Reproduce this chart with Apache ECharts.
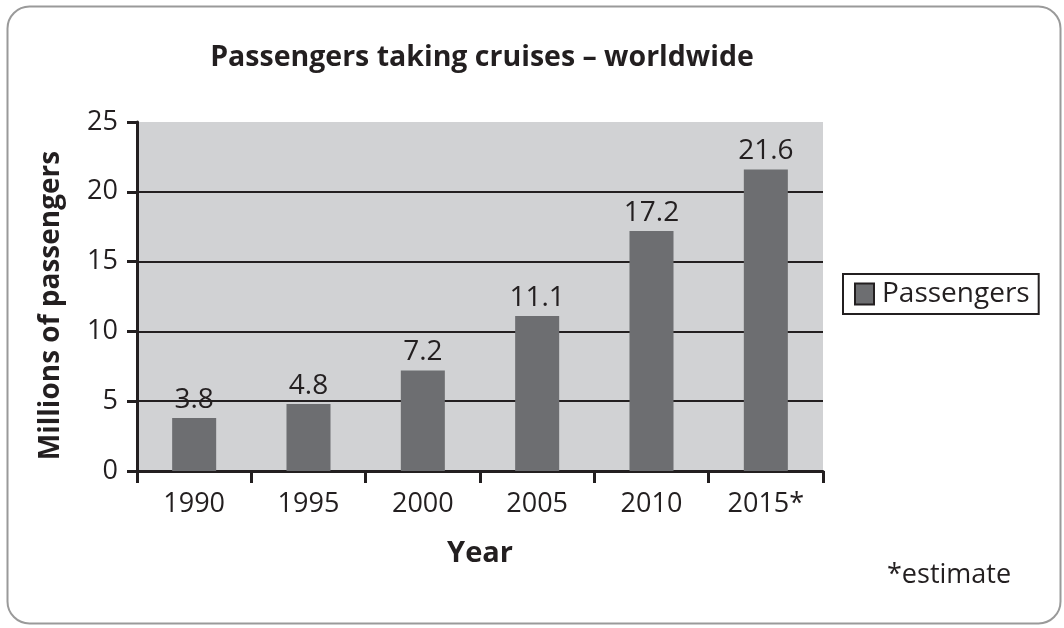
<!DOCTYPE html>
<html><head><meta charset="utf-8">
<script src="https://cdn.jsdelivr.net/npm/echarts@6/dist/echarts.min.js"></script>
<style>html,body{margin:0;padding:0;background:#fff}#c{width:1064px;height:628px}</style>
</head><body><div id="c"></div>
<script>
const categories = ['1990', '1995', '2000', '2005', '2010', '2015*'];
const passengers = [3.8, 4.8, 7.2, 11.1, 17.2, 21.6];
const yTicks = [0, 5, 10, 15, 20, 25];
const FONT = '"Open Sans", "Noto Sans", sans-serif';
const chart = echarts.init(document.getElementById('c'), null, {renderer: 'canvas'});
chart.setOption({
  animation: false,
  backgroundColor: '#fff',
  title: {
    text: 'Passengers taking cruises – worldwide',
    left: 477, top: 38, textAlign: 'center',
    textStyle: {fontFamily: FONT, fontSize: 28.5, fontWeight: 'bold', color: '#231f20'}
  },
  graphic: [
    {type: 'rect', left: 5, top: 4, shape: {width: 1053, height: 617, r: 22},
     style: {fill: 'none', stroke: '#9a9a9a', lineWidth: 2}, z: -1},
    {type: 'text', left: 887, top: 562,
     style: {text: '*estimate', font: '27px ' + FONT, fill: '#231f20'}}
  ],
  legend: {
    left: 843, top: 274, orient: 'vertical',
    padding: [6, 9, 6, 11],
    borderColor: '#231f20', borderWidth: 2,
    itemWidth: 19, itemHeight: 21, itemGap: 6,
    icon: 'rect',
    itemStyle: {borderColor: '#231f20', borderWidth: 2},
    textStyle: {fontFamily: FONT, fontSize: 28, color: '#231f20', padding: [0, 0, 0, 3]},
    data: ['Passengers']
  },
  grid: {
    left: 137, top: 122, right: 241, bottom: 157,
    show: true, backgroundColor: '#d1d2d4', borderWidth: 0,
    containLabel: false
  },
  xAxis: {
    type: 'category', data: categories,
    name: 'Year', nameLocation: 'middle', nameGap: 68,
    nameTextStyle: {fontFamily: FONT, fontSize: 29, fontWeight: 'bold', color: '#231f20'},
    axisLine: {show: true, lineStyle: {color: '#231f20', width: 3}},
    axisTick: {show: true, alignWithLabel: false, length: 12, lineStyle: {color: '#231f20', width: 3}},
    axisLabel: {fontFamily: FONT, fontSize: 27, color: '#231f20', margin: 20}
  },
  yAxis: {
    type: 'value', min: 0, max: 25, interval: 5,
    name: 'Millions of passengers', nameLocation: 'middle', nameGap: 72,
    nameTextStyle: {fontFamily: FONT, fontSize: 28, fontWeight: 'bold', color: '#231f20', padding: [0, 18, 0, 0]},
    axisLine: {show: true, lineStyle: {color: '#231f20', width: 3}},
    axisTick: {show: true, length: 10, lineStyle: {color: '#231f20', width: 3}},
    axisLabel: {fontFamily: FONT, fontSize: 27, color: '#231f20', margin: 19,
      formatter: v => yTicks.includes(v) ? String(v) : ''},
    splitLine: {show: true, lineStyle: {color: ['#231f20', '#231f20', '#231f20', '#231f20', '#231f20', 'rgba(0,0,0,0)'], width: 2}}
  },
  series: [{
    name: 'Passengers', type: 'bar', data: passengers,
    barWidth: '38.5%',
    itemStyle: {color: '#6d6e71'},
    label: {show: true, position: 'top', distance: 4,
      fontFamily: FONT, fontSize: 28, color: '#231f20'}
  }]
});
</script></body></html>
